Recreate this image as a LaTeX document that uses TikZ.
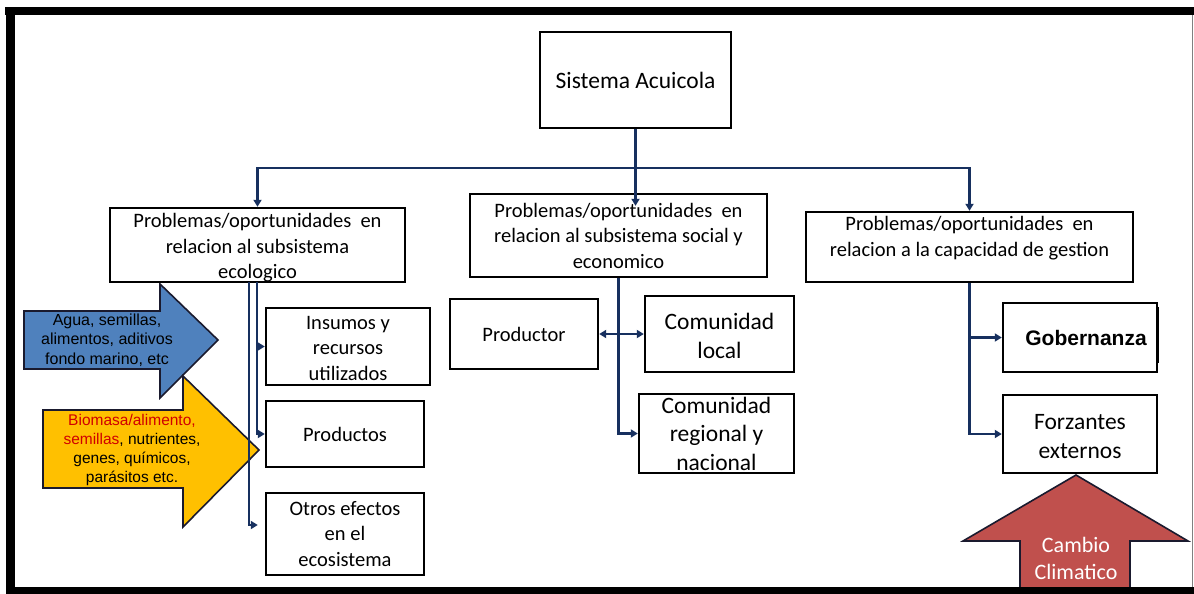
\documentclass[tikz,border=0pt]{standalone}
\usepackage{fontspec}
\setmainfont{Carlito}
\newfontfamily\arialf{Liberation Sans}
\usetikzlibrary{arrows.meta}
\definecolor{navy}{HTML}{17305F}
\definecolor{bluefill}{HTML}{4F81BD}
\definecolor{yellowfill}{HTML}{FFC000}
\definecolor{redfill}{HTML}{C0504D}
\definecolor{redtxt}{HTML}{D00000}
\definecolor{outl}{HTML}{1A1A2E}
\begin{document}
\begin{tikzpicture}[x=1pt,y=-1pt,
  box/.style={draw=black,line width=2.4pt,fill=white,rectangle,inner sep=0pt,align=center,
    font=\fontsize{20.5}{25.5}\selectfont},
  boxtext/.style={align=center,inner sep=0pt,font=\fontsize{20.5}{25.5}\selectfont},
  bigtext/.style={font=\fontsize{23.5}{28.5}\selectfont},
  conn/.style={draw=navy,line width=2.2pt,-{Triangle[width=8pt,length=7pt]}},
  dconn/.style={draw=navy,line width=2.2pt,{Triangle[width=8pt,length=7pt]}-{Triangle[width=8pt,length=7pt]}},
  blockarrow/.style={draw=outl,line width=1.6pt,line join=miter},
  arrowtext/.style={align=center,inner sep=0pt}
]
\useasboundingbox (0,0) rectangle (1194,594);
\fill[white] (0,0) rectangle (1194,594);

% block arrows
\draw[blockarrow,fill=bluefill] (24,311) -- (160,311) -- (160,284) -- (218,340) -- (160,398) -- (160,369) -- (24,369) -- cycle;
\draw[blockarrow,fill=yellowfill] (43,410) -- (183,410) -- (183,376) -- (259,450) -- (183,527) -- (183,488) -- (43,488) -- cycle;
\draw[blockarrow,fill=redfill] (1020,592) -- (1020,541) -- (963,541) -- (1076,475) -- (1188,541) -- (1130,541) -- (1130,592);

% boxes
\node[box,minimum width=191,minimum height=96,bigtext] (sis) at (635.5,80) {Sistema Acuicola};
\node[box,minimum width=295,minimum height=74] (p1) at (257.5,245) {};
\node[boxtext] (p1t) at (257.5,248) {Problemas/oportunidades\ \ en\\relacion al subsistema\\ecologico};
\node[box,minimum width=297,minimum height=83] (p2) at (618.5,235.5) {Problemas/oportunidades\ \ en\\relacion al subsistema social y\\economico};
\node[box,minimum width=327,minimum height=70] (p3) at (969.5,247) {};
\node[boxtext] (p3t) at (969.5,238) {Problemas/oportunidades\ \ en\\relacion a la capacidad de gestion};

\node[box,minimum width=164,minimum height=77] (ins) at (348,346.5) {};
\node[boxtext] (inst) at (348,348) {Insumos y\\recursos\\utilizados};
\node[box,minimum width=158,minimum height=66] (prod) at (345,434) {Productos};
\node[box,minimum width=158,minimum height=82] (otros) at (345,534) {Otros efectos\\en el\\ecosistema};

\node[box,minimum width=148,minimum height=70] (pr) at (524,334) {Productor};
\node[box,minimum width=149,minimum height=76,bigtext] (cl) at (719.5,334) {};
\node[boxtext,bigtext] (clt) at (719.5,336) {Comunidad\\local};
\node[box,minimum width=155,minimum height=79,bigtext] (cr) at (716.5,433.5) {Comunidad\\regional y\\nacional};

\node[box,minimum width=154,minimum height=69,font=\arialf\bfseries\fontsize{21}{25}\selectfont] (gob) at (1080,337.5) {\hspace{12pt}Gobernanza};
\draw[black,line width=3.5pt] ([xshift=-0.5pt,yshift=-5pt]gob.north east) -- ([xshift=-0.5pt,yshift=10pt]gob.south east);
\node[box,minimum width=154,minimum height=78] (forz) at (1080,434) {};
\node[boxtext,bigtext] (forzt) at (1080,436.5) {Forzantes\\externos};

% connectors
\coordinate (hub) at (635.5,168);
\draw[conn] (sis.south) -- (hub) -| (p1.north);
\draw[conn] (hub) -| (p3.north);
\draw[conn,shorten >=-13pt] (hub) -- (hub |- p2.north);

\coordinate (l1) at (257,282);
\coordinate (l2) at (249,282);
\draw[conn] (l1) |- (ins.west);
\draw[conn] (l1) |- (prod.west);
\draw[conn,shorten >=7pt] (l2) |- ([yshift=9pt]otros.west);

\draw[conn] (p2.south) |- (cr.west);
\draw[dconn] (pr.east) -- (cl.west);

\draw[conn] (p3.south) |- (gob.west);
\draw[conn] (p3.south) |- (forz.west);

% arrow texts
\node[arrowtext,font=\arialf\fontsize{16}{19.5}\selectfont] (bluet) at (107,340) {Agua, semillas,\\alimentos, aditivos\\fondo marino, etc};
\node[arrowtext,font=\arialf\fontsize{15.5}{19.3}\selectfont] (yellowt) at (132,450) {{\color{redtxt}Biomasa/alimento,}\\{\color{redtxt}semillas}, nutrientes,\\genes, químicos,\\parásitos etc.};
\node[arrowtext,text=white,font=\fontsize{22}{27}\selectfont] (redt) at (1076,558) {Cambio\\Climatico};

% frame
\fill[black] (5,7) rectangle (1194,15);
\fill[black] (6,7) rectangle (15,594);
\fill[black] (6,587) rectangle (1194,594);
\draw[gray,line width=1pt] (1192,15) -- (1192,587);
\end{tikzpicture}
\end{document}
